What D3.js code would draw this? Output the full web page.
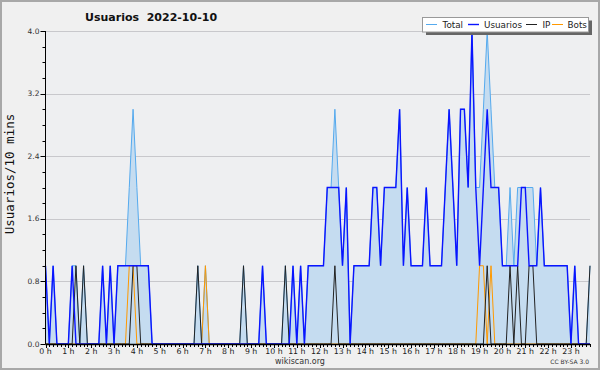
<!DOCTYPE html>
<meta charset="utf-8">
<title>Usuarios 2022-10-10</title>
<style>
body { margin: 0; background: #f0f0f0; }
svg { display: block; font-family: "DejaVu Sans", sans-serif; }
.grid line { stroke: #c8c8cc; stroke-width: 1; }
.line { fill: none; }
</style>
<svg width="600" height="370"></svg>
<script src="https://cdn.jsdelivr.net/npm/d3@7"></script>
<script>

// one value every 10 minutes, 6 per hour
var usuarios = [
  1,0,1,0,0,0, 0,1,0,0,0,0, 0,0,0,1,0,1, 0,1,1,1,1,1,
  1,1,1,1,0,0, 0,0,0,0,0,0, 0,0,0,0,0,0, 0,0,0,0,0,0,
  0,0,0,0,0,0, 0,0,0,1,0,0, 0,0,0,0,0,1, 0,1,0,1,1,1,
  1,1,2,2,2,2, 1,2,0,1,1,1, 1,1,2,2,1,2, 2,2,2,3,1,2,
  1,1,1,1,2,1, 1,1,1,2,3,2, 1,3,3,2,4,2, 1,2,3,2,2,2,
  1,1,1,1,1,2, 2,1,1,1,2,1, 1,1,1,1,1,1, 0,1,0,0,0,0
];

var ip = [
  0,0,0,0,0,0, 0,0,1,0,1,0, 0,0,0,0,0,0, 0,0,0,0,0,1,
  1,0,0,0,0,0, 0,0,0,0,0,0, 0,0,0,0,1,0, 0,0,0,0,0,0,
  0,0,0,0,1,0, 0,0,0,0,0,0, 0,0,0,1,0,0, 0,0,0,0,0,0,
  0,0,0,0,1,0, 0,0,0,0,0,0, 0,0,0,0,0,0, 0,0,0,0,0,0,
  0,0,0,0,0,0, 0,0,0,0,0,0, 0,0,0,0,0,0, 0,0,1,0,0,0,
  0,0,1,0,1,0, 0,1,1,0,0,0, 0,0,0,0,0,0, 0,0,0,0,0,1
];

var bots = [
  0,0,0,0,0,0, 0,0,0,0,0,0, 0,0,0,0,0,0, 0,0,0,0,1,1,
  0,0,0,0,0,0, 0,0,0,0,0,0, 0,0,0,0,0,0, 1,0,0,0,0,0,
  0,0,0,0,0,0, 0,0,0,0,0,0, 0,0,0,0,0,0, 0,0,0,0,0,0,
  0,0,0,0,0,0, 0,0,0,0,0,0, 0,0,0,0,0,0, 0,0,0,0,0,0,
  0,0,0,0,0,0, 0,0,0,0,0,0, 0,0,0,0,0,0, 1,1,0,1,0,0,
  0,0,0,0,0,0, 0,0,0,0,0,0, 0,0,0,0,0,0, 0,0,0,0,0,0
];

var total = [
  1,0,1,0,0,0, 0,1,1,0,1,0, 0,0,0,1,0,1, 0,1,1,1,2,3,
  2,1,1,1,0,0, 0,0,0,0,0,0, 0,0,0,0,1,0, 1,0,0,0,0,0,
  0,0,0,0,1,0, 0,0,0,1,0,0, 0,0,0,1,0,1, 0,1,0,1,1,1,
  1,1,2,2,3,2, 1,2,0,1,1,1, 1,1,2,2,1,2, 2,2,2,3,1,2,
  1,1,1,1,2,1, 1,1,1,2,3,2, 1,3,3,2,4,2, 2,3,4,3,2,2,
  1,1,2,1,2,2, 2,2,2,1,2,1, 1,1,1,1,1,1, 0,1,0,0,0,1
];

var hourLabels = d3.range(24).map(function (h) { return h + " h"; });
var yTicks = [0, 0.8, 1.6, 2.4, 3.2, 4.0];

var series = [
  {name: "Total", values: total, color: "#55aaee", width: 1},
  {name: "Usuarios", values: usuarios, color: "#0a14ff", width: 1.4},
  {name: "IP", values: ip, color: "#222222", width: 1},
  {name: "Bots", values: bots, color: "#ff9900", width: 1}
];

var svg = d3.select("svg"),
    width = +svg.attr("width"),
    height = +svg.attr("height");

var plotL = 45.5, plotR = 590, plotT = 31, plotB = 344;

var x = d3.scaleLinear().domain([0, 143]).range([plotL, plotR]);
var y = d3.scaleLinear().domain([0, 4]).range([plotB, plotT]);

svg.append("rect")
    .attr("x", 1).attr("y", 1)
    .attr("width", width - 2).attr("height", height - 2)
    .attr("fill", "#f0f0f0")
    .attr("stroke", "#a8a8a8")
    .attr("stroke-width", 2);

svg.append("rect")
    .attr("x", plotL).attr("y", plotT)
    .attr("width", plotR - plotL).attr("height", plotB - plotT)
    .attr("fill", "#eeeff1");

// grid
svg.append("g")
    .attr("class", "grid")
  .selectAll("line")
    .data(yTicks.slice(1))
  .enter().append("line")
    .attr("x1", plotL).attr("x2", plotR)
    .attr("y1", function (d) { return Math.round(y(d)) + 0.5; })
    .attr("y2", function (d) { return Math.round(y(d)) + 0.5; });

// total area
var area = d3.area()
    .x(function (d, i) { return x(i); })
    .y0(y(0))
    .y1(function (d) { return y(d); });

svg.append("path")
    .datum(total)
    .attr("fill", "#c5dcf0")
    .attr("d", area);

var line = d3.line()
    .x(function (d, i) { return x(i); })
    .y(function (d) { return y(d); });

// draw order: total, bots, ip, usuarios on top
[series[0], series[3], series[2], series[1]].forEach(function (s) {
  svg.append("path")
      .datum(s.values)
      .attr("class", "line")
      .attr("stroke", s.color)
      .attr("stroke-width", s.width)
      .attr("stroke-linejoin", "miter")
      .attr("d", line);
});

// y axis
var yAxis = svg.append("g");
yAxis.append("line")
    .attr("x1", plotL).attr("x2", plotL)
    .attr("y1", plotT).attr("y2", plotB)
    .attr("stroke", "#000");
yAxis.selectAll(".minor")
    .data(d3.range(0, 21))
  .enter().append("line")
    .attr("x1", plotL).attr("x2", function (d) { return d % 4 === 0 ? plotL - 5 : plotL - 3; })
    .attr("y1", function (d) { return Math.round(y(d * 0.2)) + 0.5; })
    .attr("y2", function (d) { return Math.round(y(d * 0.2)) + 0.5; })
    .attr("stroke", "#000");
yAxis.selectAll("text")
    .data(yTicks)
  .enter().append("text")
    .attr("x", plotL - 6)
    .attr("y", function (d) { return y(d) + 2.5; })
    .attr("text-anchor", "end")
    .attr("font-size", 7.5)
    .attr("fill", "#333")
    .text(function (d) { return d.toFixed(1); });

svg.append("text")
    .attr("transform", "translate(14,174) rotate(-90)")
    .attr("text-anchor", "middle")
    .attr("font-family", "DejaVu Sans Mono, monospace")
    .attr("font-size", 12.5)
    .attr("fill", "#111")
    .text("Usuarios/10 mins");

// x axis
var xAxis = svg.append("g");
xAxis.append("line")
    .attr("x1", plotL).attr("x2", plotR)
    .attr("y1", plotB + 0.5).attr("y2", plotB + 0.5)
    .attr("stroke", "#000")
    .attr("stroke-width", 1.5);
xAxis.selectAll(".tick")
    .data(d3.range(0, 144))
  .enter().append("line")
    .attr("x1", function (d) { return Math.round(x(d)) + 0.5; })
    .attr("x2", function (d) { return Math.round(x(d)) + 0.5; })
    .attr("y1", plotB)
    .attr("y2", function (d) { return d % 6 === 0 ? plotB + 4 : plotB + 3; })
    .attr("stroke", "#000");
xAxis.selectAll("text")
    .data(hourLabels)
  .enter().append("text")
    .attr("x", function (d, i) { return x(i * 6); })
    .attr("y", plotB + 9.5)
    .attr("text-anchor", "middle")
    .attr("font-size", 7.8)
    .attr("fill", "#222")
    .text(function (d) { return d; });

// title
svg.append("text")
    .attr("x", 85)
    .attr("y", 21)
    .attr("font-size", 11)
    .attr("font-weight", "bold")
    .attr("fill", "#111")
    .style("white-space", "pre")
    .text("Usuarios  2022-10-10");

svg.append("text")
    .attr("x", 300)
    .attr("y", 364)
    .attr("text-anchor", "middle")
    .attr("font-size", 8)
    .attr("fill", "#333")
    .text("wikiscan.org");

svg.append("text")
    .attr("x", 589)
    .attr("y", 364)
    .attr("text-anchor", "end")
    .attr("font-size", 6)
    .attr("fill", "#333")
    .text("CC BY-SA 3.0");

// legend
var lg = svg.append("g");
lg.append("rect")
    .attr("x", 426).attr("y", 20.5)
    .attr("width", 166).attr("height", 14.5)
    .attr("fill", "#666");
lg.append("rect")
    .attr("x", 422.5).attr("y", 17.5)
    .attr("width", 166).attr("height", 14.5)
    .attr("fill", "#fff")
    .attr("stroke", "#999");

var legendPos = [
  {lx: 426, tx: 442.5},
  {lx: 468, tx: 484},
  {lx: 526, tx: 542.5},
  {lx: 552, tx: 567.5}
];

series.forEach(function (s, i) {
  var p = legendPos[i];
  lg.append("line")
      .attr("x1", p.lx).attr("x2", p.lx + 11)
      .attr("y1", 24.5).attr("y2", 24.5)
      .attr("stroke", s.color)
      .attr("stroke-width", s.width);
  lg.append("text")
      .attr("x", p.tx)
      .attr("y", 28)
      .attr("font-size", 8.8)
      .attr("fill", "#222")
      .text(s.name);
});

</script>
